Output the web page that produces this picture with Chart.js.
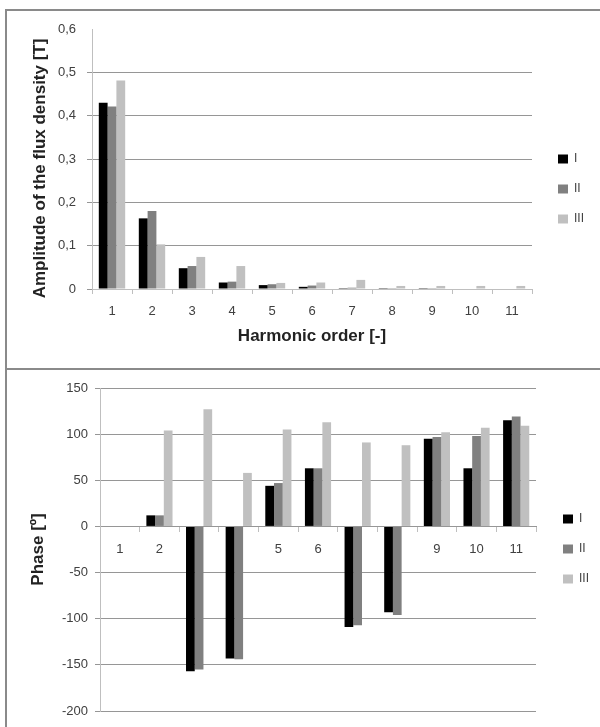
<!DOCTYPE html>
<html>
<head>
<meta charset="utf-8">
<script src="https://cdn.jsdelivr.net/npm/chart.js@4.4.0/dist/chart.umd.min.js"></script>
<style>
  body { margin: 0; background: #fff; }
  .frame { position: absolute; border: 2px solid #8a8a8a; box-sizing: border-box; }
  .box { position: absolute; left: 0; }
</style>
</head>
<body>
<div class="frame" style="left:5px; top:9px; width:620px; height:361px;"></div>
<div class="frame" style="left:5px; top:368px; width:620px; height:400px;"></div>
<div class="box" style="top:0; width:600px; height:368px;"><canvas id="ampChart" width="600" height="368"></canvas></div>
<div class="box" style="top:369px; width:600px; height:358px;"><canvas id="phaseChart" width="600" height="358"></canvas></div>
<script>
// harmonic orders
const harmonics = ['1', '2', '3', '4', '5', '6', '7', '8', '9', '10', '11'];
const seriesNames = ['I', 'II', 'III'];
const seriesColors = ['#000000', '#808080', '#c0c0c0'];

// amplitude of the flux density [T]
const ampI   = [0.430, 0.163, 0.048, 0.015, 0.009, 0.005, 0.002, 0.002, 0.002, 0.000, 0.000];
const ampII  = [0.421, 0.180, 0.053, 0.017, 0.011, 0.008, 0.003, 0.002, 0.002, 0.000, 0.000];
const ampIII = [0.481, 0.103, 0.074, 0.053, 0.014, 0.015, 0.021, 0.007, 0.007, 0.007, 0.007];
const ampTicks = ['0', '0,1', '0,2', '0,3', '0,4', '0,5', '0,6'];

// phase [deg]
const phaseI   = [0, 12, -157, -143, 44, 63, -109, -93, 95, 63, 115];
const phaseII  = [0, 12, -155, -144, 47, 63, -107, -96, 97, 98, 119];
const phaseIII = [0, 104, 127, 58, 105, 113, 91, 88, 102, 107, 109];
const phaseTicks = ['-200', '-150', '-100', '-50', '0', '50', '100', '150'];

const fontFamily = '"Liberation Sans", Arial, sans-serif';
const gridColor = '#969696';
const axisColor = '#bfbfbf';
const textColor = '#404040';

// legend sits in the chart area layer, then gets moved to a fixed spot on the right
const legendPosPlugin = {
    id: 'legendPos',
    afterLayout(chart, args, opts) {
        const lg = chart.legend;
        if (!lg) return;
        const w = lg.width, h = lg.height;
        lg.left = opts.left; lg.right = opts.left + w;
        lg.top = opts.top; lg.bottom = opts.top + h;
    }
};

function makeDatasets(values) {
    return values.map((v, i) => ({
        label: seriesNames[i],
        data: v,
        backgroundColor: seriesColors[i],
        borderWidth: 0,
        barPercentage: 1,
        categoryPercentage: 0.66
    }));
}

function legendOptions() {
    return {
        position: 'chartArea',
        align: 'start',
        labels: {
            boxWidth: 10,
            boxHeight: 9,
            padding: 18,
            color: textColor,
            font: { family: fontFamily, size: 12 }
        }
    };
}

function initAmpChart() {
    const ctx = document.getElementById('ampChart');
    new Chart(ctx, {
        type: 'bar',
        data: { labels: harmonics, datasets: makeDatasets([ampI, ampII, ampIII]) },
        plugins: [legendPosPlugin],
        options: {
            responsive: false,
            animation: false,
            layout: { padding: { left: 0, right: 68, top: 29, bottom: 0 } },
            scales: {
                x: {
                    grid: { drawOnChartArea: false, color: axisColor, tickLength: 5 },
                    border: { color: axisColor },
                    ticks: { color: textColor, padding: 10, font: { family: fontFamily, size: 13 } },
                    title: {
                        display: true,
                        text: 'Harmonic order [-]',
                        color: '#222',
                        font: { family: fontFamily, size: 17, weight: 'bold' },
                        padding: { top: 0, bottom: 21 }
                    },
                    afterFit(scale) { scale.height = 79; }
                },
                y: {
                    min: 0,
                    max: 0.6,
                    grid: {
                        tickLength: 5,
                        color: c => (c.tick && c.tick.value > 0.55) ? 'rgba(0,0,0,0)' : gridColor
                    },
                    border: { color: axisColor },
                    ticks: {
                        stepSize: 0.1,
                        padding: 11,
                        color: textColor,
                        font: { family: fontFamily, size: 13 },
                        callback: (v, i) => ampTicks[i]
                    },
                    title: {
                        display: true,
                        // trailing spaces nudge the title down a little, as in the original
                        text: 'Amplitude of the flux density [T]\u00a0\u00a0\u00a0\u00a0',
                        color: '#222',
                        font: { family: fontFamily, size: 17, weight: 'bold' },
                        padding: { top: 30, bottom: 0 }
                    },
                    afterFit(scale) { scale.width = 92; }
                }
            },
            plugins: {
                legend: legendOptions(),
                legendPos: { left: 540, top: 135 },
                tooltip: { enabled: false }
            }
        }
    });
}

function initPhaseChart() {
    const ctx = document.getElementById('phaseChart');
    new Chart(ctx, {
        type: 'bar',
        data: { labels: harmonics, datasets: makeDatasets([phaseI, phaseII, phaseIII]) },
        plugins: [legendPosPlugin],
        options: {
            responsive: false,
            animation: false,
            layout: { padding: { left: 0, right: 64, top: 19, bottom: 16 } },
            scales: {
                x: {
                    position: { y: 0 },
                    z: 1,
                    grid: { drawOnChartArea: false, color: axisColor, tickLength: 5 },
                    border: { color: gridColor },
                    ticks: { color: textColor, padding: 10, font: { family: fontFamily, size: 13 } }
                },
                y: {
                    min: -200,
                    max: 150,
                    grid: { tickLength: 5, color: gridColor },
                    border: { color: axisColor },
                    ticks: {
                        stepSize: 50,
                        padding: 7,
                        color: textColor,
                        font: { family: fontFamily, size: 13 },
                        callback: (v, i) => phaseTicks[i]
                    },
                    title: {
                        display: true,
                        text: 'Phase [º]',
                        color: '#222',
                        font: { family: fontFamily, size: 17, weight: 'bold' },
                        padding: { top: 28, bottom: 0 }
                    },
                    afterFit(scale) { scale.width = 100; }
                }
            },
            plugins: {
                legend: legendOptions(),
                legendPos: { left: 545, top: 126 },
                tooltip: { enabled: false }
            }
        }
    });
}

document.addEventListener('DOMContentLoaded', function() {
    initAmpChart();
    initPhaseChart();
});
</script>
</body>
</html>
